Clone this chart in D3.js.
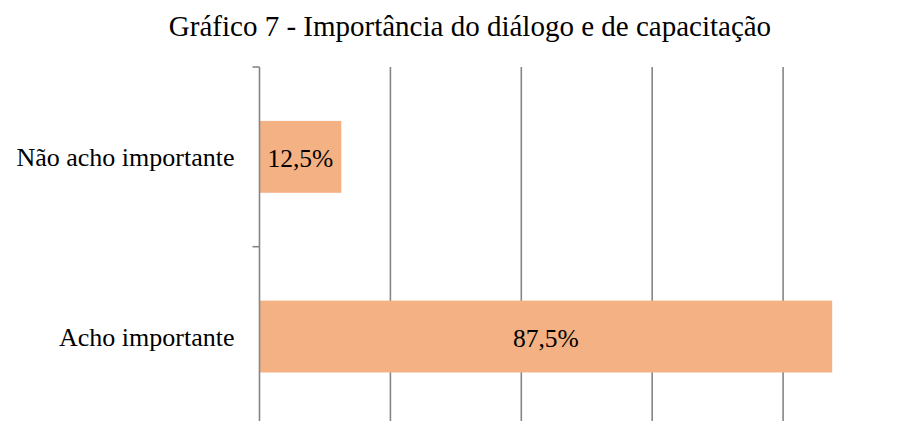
<!DOCTYPE html>
<html><head><meta charset="utf-8">
<script src="https://cdn.jsdelivr.net/npm/d3@7"></script>
<style>html,body{margin:0;padding:0;background:#fff;}svg{display:block;}</style>
</head><body>
<script>
const title = "Gráfico 7 - Importância do diálogo e de capacitação";
const categories = ["Não acho importante", "Acho importante"];
const values = [0.125, 0.875];
const valueLabels = ["12,5%", "87,5%"];
const xTicks = [0, 0.2, 0.4, 0.6, 0.8, 1.0];

const W = 901, H = 421;
const FONT = "Liberation Serif";
const svg = d3.select("body").append("svg").attr("width", W).attr("height", H);

const x = d3.scaleLinear().domain([0, 1]).range([259.5, 914]);
const y = d3.scaleBand().domain(categories).range([67, 426.4]).paddingInner(0.6).paddingOuter(0.3);

// gridlines
svg.append("g").selectAll("line").data(xTicks.filter(d => d > 0)).join("line")
  .attr("x1", d => x(d)).attr("x2", d => x(d))
  .attr("y1", 67).attr("y2", 426.4)
  .attr("stroke", "#868686").attr("stroke-width", 1.6);

// bars
svg.append("g").selectAll("rect").data(categories).join("rect")
  .attr("x", x(0))
  .attr("y", c => y(c))
  .attr("width", (c, i) => x(values[i]) - x(0))
  .attr("height", y.bandwidth())
  .attr("fill", "#F4B183");

// y axis line
svg.append("line").attr("x1", x(0)).attr("x2", x(0)).attr("y1", 67).attr("y2", 426.4)
  .attr("stroke", "#868686").attr("stroke-width", 1.6);

// y axis ticks at band boundaries
const bounds = [y.range()[0], y.range()[0] + y.step(), y.range()[0] + 2 * y.step()];
svg.append("g").selectAll("line").data(bounds).join("line")
  .attr("x1", x(0) - 7).attr("x2", x(0))
  .attr("y1", d => d).attr("y2", d => d)
  .attr("stroke", "#868686").attr("stroke-width", 1.6);

// category labels
svg.append("g").selectAll("text").data(categories).join("text")
  .attr("x", x(0) - 25)
  .attr("y", c => y(c) + y.bandwidth() / 2 + 9)
  .attr("text-anchor", "end")
  .style("font-family", FONT)
  .attr("font-size", 26)
  .attr("fill", "#000")
  .text(c => c);

// value labels
svg.append("g").selectAll("text").data(categories).join("text")
  .attr("x", (c, i) => (x(0) + x(values[i])) / 2)
  .attr("y", c => y(c) + y.bandwidth() / 2 + 10)
  .attr("text-anchor", "middle")
  .style("font-family", FONT)
  .attr("font-size", 25.5)
  .attr("fill", "#000")
  .text((c, i) => valueLabels[i]);

// title
svg.append("text").attr("x", 470).attr("y", 36)
  .attr("text-anchor", "middle")
  .style("font-family", FONT)
  .attr("font-size", 29)
  .attr("fill", "#000")
  .text(title);
</script>
</body></html>
